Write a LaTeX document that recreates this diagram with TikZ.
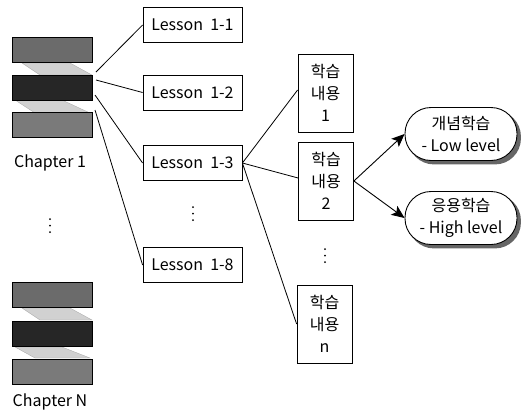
\documentclass[tikz,border=0pt]{standalone}
\usepackage{fontspec}
\setmainfont{Noto Sans CJK KR}
\usetikzlibrary{arrows.meta,calc,backgrounds}
\begin{document}
\begin{tikzpicture}[x=1pt,y=-1pt,
  every node/.style={inner sep=0pt, font=\fontsize{16}{20}\selectfont},
  lessonbox/.style={draw, line width=0.8pt, minimum width=99pt, minimum height=35pt},
  contentbox/.style={draw, line width=0.8pt, minimum width=55pt, minimum height=78pt, align=center, font=\fontsize{16}{22}\selectfont},
  pill/.style={rounded corners=26pt, minimum width=112pt, minimum height=53pt, draw, line width=0.9pt, fill=white, align=center, font=\fontsize{16}{22}\selectfont},
  pillshadow/.style={fill=black!60, rounded corners=26pt},
  blk/.style={draw, line width=0.6pt, minimum width=80pt, minimum height=25pt},
  ribbon/.style={fill=black!18, draw=black!35, line width=0.3pt},
  conn/.style={line width=0.8pt},
  arr/.style={line width=0.9pt, -{Stealth[length=13pt,width=11pt,inset=3pt]}},
  dot/.style={fill=black, circle, minimum size=2pt}
]
\useasboundingbox (0,0) rectangle (528,413);

% Chapter 1 blocks
\fill[ribbon] (22,63) -- (70,63) -- (92,75) -- (40,75) -- cycle;
\fill[ribbon] (15,100) -- (62,100) -- (90,113) -- (35,113) -- cycle;
\node[blk, fill=black!58] (c1a) at (52,50) {};
\node[blk, fill=black!85] (c1b) at (52,87.5) {};
\node[blk, fill=black!52] (c1c) at (52,125) {};
\node (ch1) at (50,163) {Chapter 1};

% chapter dots
\node[dot] (cd1) at (50,219) {};
\node[dot] (cd2) at (50,225.5) {};
\node[dot] (cd3) at (50,232) {};

% Chapter N blocks
\fill[ribbon] (22,308) -- (70,308) -- (92,320) -- (40,320) -- cycle;
\fill[ribbon] (15,347) -- (62,347) -- (90,358) -- (35,358) -- cycle;
\node[blk, fill=black!58] (cna) at (52,295) {};
\node[blk, fill=black!85] (cnb) at (52,333.5) {};
\node[blk, fill=black!52] (cnc) at (52,371.5) {};
\node (chn) at (50,402) {Chapter N};

% Lessons
\node[lessonbox] (l1) at (192.5,25) {Lesson\ \ 1-1};
\node[lessonbox] (l2) at (192.5,92.5) {Lesson\ \ 1-2};
\node[lessonbox] (l3) at (192.5,163) {Lesson\ \ 1-3};
\node[lessonbox] (l8) at (192.5,265) {Lesson\ \ 1-8};
\node[dot] (ld1) at (193,207) {};
\node[dot] (ld2) at (193,213.5) {};
\node[dot] (ld3) at (193,220) {};

% chapter connectors
\coordinate (s1) at (96,72);
\coordinate (s2) at (96,80);
\coordinate (s3) at (95,95);
\coordinate (s4) at (95,110);
\draw[conn] (s1) -- (l1.west);
\draw[conn] (s2) -- (l2.west);
\draw[conn] (s3) -- (l3.west);
\draw[conn] (s4) -- (l8.west);

% learning content
\node[contentbox] (k1) at (325.5,93) {학습\\내용\\1};
\node[contentbox] (k2) at (326,181) {학습\\내용\\2};
\node[contentbox] (kn) at (324.5,324) {학습\\내용\\n};
\node[dot] (kd1) at (325,249) {};
\node[dot] (kd2) at (325,255.5) {};
\node[dot] (kd3) at (325,262) {};

\draw[conn] (l3.east) -- ($(k1.west)+(0,-3)$);
\draw[conn] (l3.east) -- ($(k2.west)+(0,-3)$);
\draw[conn] (l3.east) -- (kn.west);

% pills
\node[pill] (p1) at (461,134) {개념학습\\- Low level};
\node[pill] (p2) at (461,218) {응용학습\\- High level};
\begin{scope}[on background layer]
  \fill[pillshadow] ($(p1.south west)+(3.5,3.5)$) rectangle ($(p1.north east)+(3.5,3.5)$);
  \fill[pillshadow] ($(p2.south west)+(3.5,3.5)$) rectangle ($(p2.north east)+(3.5,3.5)$);
\end{scope}
\draw[arr] (k2.east) -- (p1.west);
\draw[arr] (k2.east) -- (p2.west);
\end{tikzpicture}
\end{document}
